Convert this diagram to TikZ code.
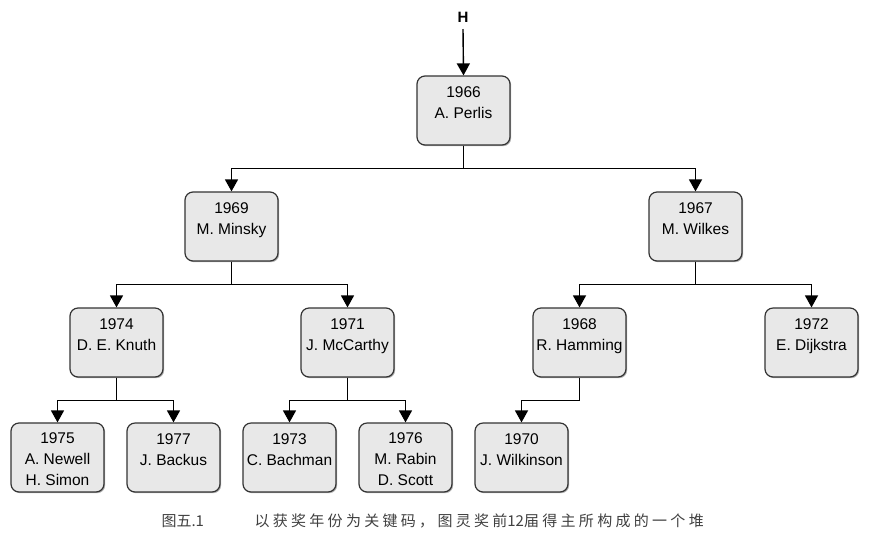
\documentclass[tikz,border=0pt]{standalone}
\usepackage{fontspec}
\setmainfont{Liberation Sans}
\newfontfamily\cjk{Noto Sans CJK SC}
\newfontfamily\cjksp[LetterSpace=22]{Noto Sans CJK SC}
\usetikzlibrary{arrows.meta,shadows}
\newcommand\yrline[1]{\rule{0pt}{15pt}#1}
\newcommand\emptyline{\phantom{H}}
\begin{document}
\begin{tikzpicture}[x=1pt,y=-1pt,
  person/.style={draw=black!80, line width=1.2pt, fill=black!9, rounded corners=8pt,
    minimum width=93pt, minimum height=69pt, align=center, font=\fontsize{15.5}{21}\selectfont,
    inner sep=0pt, drop shadow={shadow xshift=1.2pt, shadow yshift=-1.2pt, opacity=0.5, fill=black!60}},
  link/.style={line width=1.4pt, -{Triangle[length=12pt,width=13pt]}}
]
\useasboundingbox (0,0) rectangle (875,550);
\node[font=\bfseries\fontsize{15}{18}\selectfont] (H) at (463,17) {H};
\node[person] (perlis) at (463.5,110.5) {\yrline{1966}\\A. Perlis\\\emptyline};
\node[person] (minsky) at (231.5,226.5) {\yrline{1969}\\M. Minsky\\\emptyline};
\node[person] (wilkes) at (695.5,226.5) {\yrline{1967}\\M. Wilkes\\\emptyline};
\node[person] (knuth) at (116.5,342.5) {\yrline{1974}\\D. E. Knuth\\\emptyline};
\node[person] (mccarthy) at (347.5,342.5) {\yrline{1971}\\J. McCarthy\\\emptyline};
\node[person] (hamming) at (579.5,342.5) {\yrline{1968}\\R. Hamming\\\emptyline};
\node[person] (dijkstra) at (811.5,342.5) {\yrline{1972}\\E. Dijkstra\\\emptyline};
\node[person] (newell) at (57.5,457.5) {\yrline{1975}\\A. Newell\\H. Simon};
\node[person] (backus) at (173.5,457.5) {\yrline{1977}\\J. Backus\\\emptyline};
\node[person] (bachman) at (289.5,457.5) {\yrline{1973}\\C. Bachman\\\emptyline};
\node[person] (rabin) at (405.5,457.5) {\yrline{1976}\\M. Rabin\\D. Scott};
\node[person] (wilkinson) at (521.5,457.5) {\yrline{1970}\\J. Wilkinson\\\emptyline};

\draw[link] (463,29) -- (perlis.north);
\draw[link] (perlis.south) -- ++(0,23) -| (minsky.north);
\draw[link] (perlis.south) -- ++(0,23) -| (wilkes.north);
\draw[link] (minsky.south) -- ++(0,23) -| (knuth.north);
\draw[link] (minsky.south) -- ++(0,23) -| (mccarthy.north);
\draw[link] (wilkes.south) -- ++(0,23) -| (hamming.north);
\draw[link] (wilkes.south) -- ++(0,23) -| (dijkstra.north);
\draw[link] (knuth.south) -- ++(0,23) -| (newell.north);
\draw[link] (knuth.south) -- ++(0,23) -| (backus.north);
\draw[link] (mccarthy.south) -- ++(0,23) -| (bachman.north);
\draw[link] (mccarthy.south) -- ++(0,23) -| (rabin.north);
\draw[link] (hamming.south) -- ++(0,23) -| (wilkinson.north);

\node[anchor=west, text=black!75, font=\cjk\fontsize{15}{16}\selectfont] (fig) at (158,521) {图五.1};
\node[anchor=west, text=black!75, font=\fontsize{15}{16}\selectfont] (cap) at (251,521) {\cjksp 以获奖年份为关键码，图灵奖前\cjk 12\cjksp 届得主所构成的一个堆};
\end{tikzpicture}
\end{document}
